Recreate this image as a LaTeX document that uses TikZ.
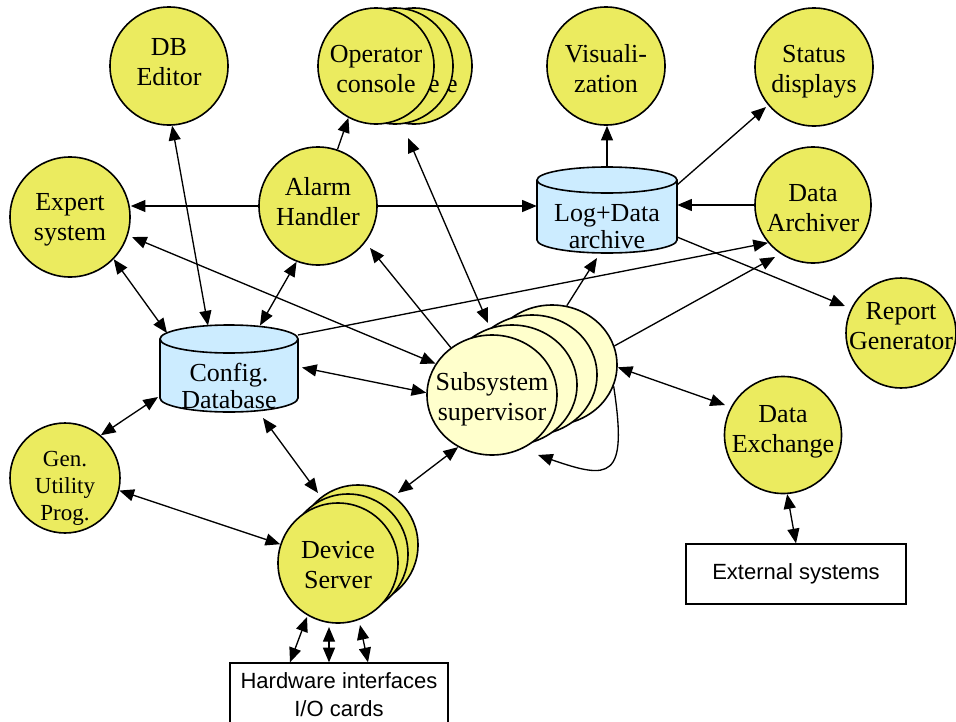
\documentclass[tikz,border=0pt]{standalone}
\usepackage{fontspec}
\setmainfont{Liberation Serif}
\newfontfamily\arialfont{Liberation Sans}
\usetikzlibrary{arrows.meta,calc,shapes.geometric}

\definecolor{ballyellow}{RGB}{235,235,95}
\definecolor{paleyellow}{RGB}{255,255,204}
\definecolor{cylblue}{RGB}{204,236,255}

\newcommand\nodefont{\fontsize{19.5pt}{22.5pt}\selectfont}
\newcommand\cylfont{\fontsize{19.5pt}{18pt}\selectfont}
\newcommand\genfont{\fontsize{17.25pt}{20.25pt}\selectfont}
\newcommand\boxfont{\arialfont\fontsize{16.5pt}{21pt}\selectfont}

\tikzset{
  >={Triangle[length=11pt,width=9pt]},
  ball/.style={circle,draw,line width=1.2pt,fill=ballyellow,inner sep=0pt},
  pale/.style={ellipse,draw,line width=1.2pt,fill=paleyellow,inner sep=0pt,
               minimum width=97.5pt,minimum height=90pt},
  txt/.style={align=center,inner sep=0pt,font=\nodefont},
  cyltxt/.style={align=center,inner sep=0pt,font=\cylfont},
  cylface/.style={fill=cylblue,draw,line width=1.2pt},
  boxframe/.style={draw,line width=1pt,fill=white,inner sep=0pt},
  link/.style={line width=1pt,->},
  dlink/.style={line width=1pt,<->},
}

\begin{document}
\begin{tikzpicture}[x=0.75pt,y=-0.75pt]
\useasboundingbox (0,0) rectangle (956,721);
\clip (0,0) rectangle (956,721);

% ---------- top row ----------
\node[ball,minimum size=88.5pt] (dbed) at (169,66) {};
\node[txt] at ($(dbed)+(0,-2)$) {\strut DB\\\strut Editor};

% operator console stack: only the last letter of the hidden labels shows
\node[ball,minimum size=87pt] (opc3) at (414,66) {};
\node[anchor=base east,inner sep=0pt,font=\nodefont] at ($(opc3)+(44,26)$) {e};
\node[ball,minimum size=87pt] (opc2) at (395,66) {};
\node[anchor=base east,inner sep=0pt,font=\nodefont] at ($(opc2)+(45,26)$) {e};
\node[ball,minimum size=87pt] (opc1) at (376,66) {};
\node[txt] at ($(opc1)+(0,5)$) {\strut Operator\\\strut console};

\node[ball,minimum size=88.5pt] (vis) at (606,66) {};
\node[txt] at ($(vis)+(0,5.5)$) {\strut Visuali-\\\strut zation};

\node[ball,minimum size=88.5pt] (stat) at (814,67) {};
\node[txt] at ($(stat)+(0,4)$) {\strut Status\\\strut displays};

% ---------- second row ----------
\node[ball,minimum size=90pt] (expert) at (70,217) {};
\node[txt] at ($(expert)+(0,2.5)$) {\strut Expert\\\strut system};

\node[ball,minimum size=88.5pt] (alarm) at (318,206) {};
\node[txt] at ($(alarm)+(0,-2)$) {\strut Alarm\\\strut Handler};

% Log+Data archive cylinder
\node[minimum width=105pt,minimum height=64.5pt,inner sep=0pt] (log) at (607,210) {};
\begin{scope}[shift={(log.center)},x=0.75pt,y=0.75pt]
  \path[cylface] (-70,30) -- (-70,-30)
    arc[start angle=180,end angle=360,x radius=70,y radius=13]
    -- (70,30) arc[start angle=0,end angle=180,x radius=70,y radius=13] -- cycle;
  \draw[line width=1.2pt] (-70,30) arc[start angle=180,end angle=360,x radius=70,y radius=13];
\end{scope}
\node[cyltxt] at ($(log)+(0,20)$) {\strut Log+Data\\\strut archive};

\node[ball,minimum size=87pt] (arch) at (813,205) {};
\node[txt] at ($(arch)+(0,5)$) {\strut Data\\\strut Archiver};

\node[ball,minimum size=82.5pt] (report) at (901,333) {};
\node[txt] at ($(report)+(0,-5)$) {\strut Report\\\strut Generator};

% Config. Database cylinder
\node[minimum width=103.5pt,minimum height=65.25pt,inner sep=0pt] (cfg) at (229,368.5) {};
\begin{scope}[shift={(cfg.center)},x=0.75pt,y=0.75pt]
  \path[cylface] (-69,29.5) -- (-69,-29.5)
    arc[start angle=180,end angle=360,x radius=69,y radius=14]
    -- (69,29.5) arc[start angle=0,end angle=180,x radius=69,y radius=14] -- cycle;
  \draw[line width=1.2pt] (-69,29.5) arc[start angle=180,end angle=360,x radius=69,y radius=14];
\end{scope}
\node[cyltxt] at ($(cfg)+(0,21)$) {\strut Config.\\\strut Database};

% Subsystem supervisor stack
\node[pale] (sub4) at (552,365) {};
\node[pale] (sub3) at (532,375) {};
\node[pale] (sub2) at (512,385) {};
\node[pale] (sub1) at (492,395) {};
\node[txt] at ($(sub1)+(0,4)$) {\strut Subsystem\\\strut supervisor};

\node[ball,minimum size=87.75pt] (dx) at (783,435) {};
\node[txt] at ($(dx)+(0,-4)$) {\strut Data\\\strut Exchange};

\node[ball,minimum size=82.5pt] (gen) at (65,478) {};
\node[align=center,inner sep=0pt,font=\genfont] at ($(gen)+(0,10.5)$)
  {\strut Gen.\\\strut Utility\\\strut Prog.};

% Device Server stack
\node[ball,minimum size=90pt] (dev3) at (358,545) {};
\node[ball,minimum size=90pt] (dev2) at (348,554) {};
\node[ball,minimum size=90pt] (dev1) at (338,563) {};
\node[txt] at ($(dev1)+(0,4)$) {\strut Device\\\strut Server};

% Boxes
\node[boxframe,minimum width=165pt,minimum height=45pt,font=\boxfont] (ext) at (796,574) {External systems};
\node[boxframe,minimum width=163.5pt,minimum height=57.75pt] (hw) at (339,701.5) {};
\node[align=center,inner sep=0pt,font=\boxfont] at ($(hw)+(0,-4.5)$) {\strut Hardware interfaces\\\strut I/O cards};

% ---------- connectors ----------
\draw[dlink] (dbed.-87) -- ($(cfg)+(-21,-43)$);
\draw[link] (alarm.west) -- (alarm.west -| expert.east);
\draw[link] (alarm.east) -- (alarm.east -| log.west);
\draw[link] (alarm.71) -- (opc1.-118);
\draw[dlink] ($(opc3)+(-6,72)$) -- ($(sub1)+(-4,-72)$);
\draw[link] (sub1.131) -- ($(alarm)+(52,42)$);
\draw[dlink] ($(expert)+(62,20)$) -- (sub1.151);
\draw[dlink] (expert.-44) -- ($(cfg)+(-62,-35.5)$);
\draw[dlink] (alarm.-111) -- ($(cfg)+(31,-43)$);
\draw[link] ($(cfg)+(69,-33.5)$) -- (arch.-140);
\draw[link] (sub4.17) -- ($(arch)+(-38,52)$);
\draw[link] (sub4.76) -- ($(log)+(-10,48)$);
\draw[dlink] ($(cfg)+(73,-1)$) -- (sub1.178);
\draw[dlink] (gen.50) -- ($(cfg)+(-71,28.5)$);
\draw[dlink] ($(cfg)+(34,49.5)$) -- ($(dev3)+(-40,-52)$);
\draw[dlink] (gen.-13) -- (dev1.162);
\draw[dlink] (sub1.-123) -- ($(dev3)+(40,-52)$);
\draw[link] (sub4.-19) .. controls ($(sub4)+(76,115)$) and ($(sub4)+(58,115)$) .. ($(sub2)+(26,70)$);
\draw[dlink] (sub4.-2) -- ($(dx)+(-58,-30)$);
\draw[dlink] (dx.-86) -- (ext.north);
\draw[dlink] ($(dev1)+(-31,54)$) -- ($(hw.north)+(-49,0)$);
\draw[dlink] ($(dev1)+(-9,64)$) -- ($(hw.north)+(-10,0)$);
\draw[dlink] ($(dev1)+(22,62)$) -- ($(hw.north)+(29,0)$);
\draw[link] (log.north) -- (log.north |- vis.south);
\draw[link] ($(log)+(70,-25)$) -- ($(stat)+(-48,40)$);
\draw[link] (arch.west) -- (arch.west -| log.east);
\draw[link] ($(log)+(70,27)$) -- ($(report)+(-56,-27)$);
\end{tikzpicture}
\end{document}
